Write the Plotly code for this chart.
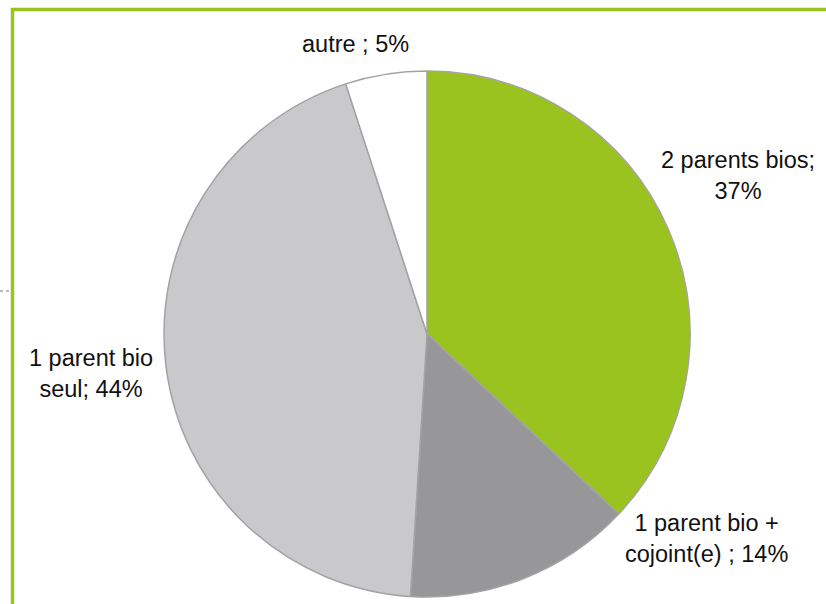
import plotly.graph_objects as go

labels = ['2 parents bios', '1 parent bio + cojoint(e)', '1 parent bio seul', 'autre']
values = [37, 14, 44, 5]
colors = ['#9bc31f', '#97979a', '#c9c9cb', '#ffffff']

# label text as in the original (line breaks and separators vary)
label_text = ['2 parents bios;<br>{}%', '1 parent bio +<br>cojoint(e) ; {}%',
              '1 parent bio<br>seul; {}%', 'autre ; {}%']
label_pos = [(738, 176), (706, 538), (91, 373), (355, 44)]

W, H = 826, 604

fig = go.Figure()
fig.add_trace(go.Pie(
    labels=labels, values=values, sort=False, direction='clockwise', rotation=0,
    marker=dict(colors=colors, line=dict(color='#a3a3a5', width=1.5)),
    textinfo='none', hoverinfo='label+percent', showlegend=False,
    domain=dict(x=[163 / W, 691 / W], y=[(H - 597) / H, (H - 71) / H]),
))

for txt, v, (px, py) in zip(label_text, values, label_pos):
    fig.add_annotation(x=px / W, y=1 - py / H, xref='paper', yref='paper',
                       text=txt.format(v), showarrow=False, align='center',
                       xanchor='center', yanchor='middle',
                       font=dict(family='Liberation Sans, Arial', size=23.5, color='#111111'))

# green frame and the dotted stub on the left
fig.add_shape(type='line', xref='paper', yref='paper', x0=11 / W, x1=1, y0=1 - 9.5 / H, y1=1 - 9.5 / H,
              line=dict(color='#9bc31f', width=3.5))
fig.add_shape(type='line', xref='paper', yref='paper', x0=12.5 / W, x1=12.5 / W, y0=1 - 8 / H, y1=0,
              line=dict(color='#9bc31f', width=3.5))
fig.add_shape(type='line', xref='paper', yref='paper', x0=0, x1=11 / W, y0=1 - 291 / H, y1=1 - 291 / H,
              line=dict(color='#777777', width=1, dash='dot'))

fig.update_layout(width=W, height=H, margin=dict(l=0, r=0, t=0, b=0),
                  paper_bgcolor='white', plot_bgcolor='white')
fig.write_html('out.html', config={'displayModeBar': False},
               post_script="document.body.style.margin='0';document.body.style.overflow='hidden';")
